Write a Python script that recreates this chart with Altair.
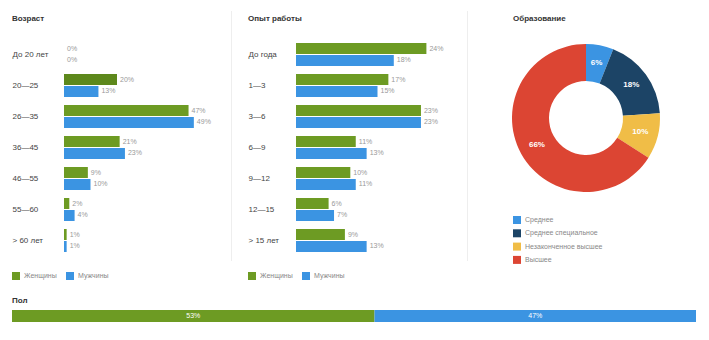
import altair as alt
import pandas as pd

# ---------------- data ----------------
sex_cats = ["Женщины", "Мужчины"]

age_cats = ["До 20 лет", "20—25", "26—35", "36—45", "46—55", "55—60", "> 60 лет"]
age_women = [0, 20, 47, 21, 9, 2, 1]
age_men = [0, 13, 49, 23, 10, 4, 1]

exp_cats = ["До года", "1—3", "3—6", "6—9", "9—12", "12—15", "> 15 лет"]
exp_women = [24, 17, 23, 11, 10, 6, 9]
exp_men = [18, 15, 23, 13, 11, 7, 13]

edu_cats = ["Среднее", "Среднее специальное", "Незаконченное высшее", "Высшее"]
edu_vals = [6, 18, 10, 66]

pol_vals = [53, 47]

# ---------------- style ----------------
FONT = "Liberation Sans"
GREEN = "#6D9B23"
GREEN_DARK = "#5D881C"
BLUE = "#3B94E2"
EDU_COLORS = ["#3B94E2", "#1C4466", "#F0BD47", "#DC4533"]


def bar_panel(cats, women, men, title, dmax, x0, highlight=None):
    rows = []
    for i, c in enumerate(cats):
        rows.append({"cat": c, "sex": sex_cats[0], "v": women[i], "hl": c == highlight})
        rows.append({"cat": c, "sex": sex_cats[1], "v": men[i], "hl": False})
    df = pd.DataFrame(rows)
    df["lbl"] = df["v"].astype(str) + "%"

    y = alt.Y("cat:N", sort=cats,
              scale=alt.Scale(paddingInner=0.258, paddingOuter=0.129),
              axis=alt.Axis(title=None, domain=False, ticks=False, labelAlign="left",
                            labelPadding=0, labelFontSize=8, labelColor="#444",
                            labelFont=FONT))
    yo = alt.YOffset("sex:N", sort=sex_cats,
                     scale=alt.Scale(paddingInner=0.083, paddingOuter=0))
    x = alt.X("v:Q", scale=alt.Scale(domain=[0, dmax], range=[x0, 211]), axis=None)
    base = alt.Chart(df).encode(y=y, yOffset=yo, x=x)

    color = alt.Color("sex:N", scale=alt.Scale(domain=sex_cats, range=[GREEN, BLUE]),
                      legend=alt.Legend(title=None, orient="none", legendX=0, legendY=233,
                                        direction="horizontal", symbolType="square",
                                        symbolSize=64, symbolStrokeWidth=0,
                                        labelFontSize=7, labelColor="#888", labelFont=FONT,
                                        columnPadding=9, labelOffset=4))
    bars = base.mark_bar().encode(
        color=alt.condition(alt.datum.hl, alt.value(GREEN_DARK), color)
    )
    labels = base.mark_text(align="left", baseline="middle", dx=3, fontSize=7,
                            color="#999", font=FONT).encode(text="lbl:N")
    sep = alt.Chart(pd.DataFrame({"a": [0]})).mark_rule(color="#EEEEEE").encode(
        x=alt.value(219.5), y=alt.value(-28), y2=alt.value(222))
    return alt.layer(bars, labels, sep).properties(
        width=211, height=217,
        title=alt.TitleParams(title, anchor="start", fontSize=8, fontWeight="bold",
                              font=FONT, color="#333", offset=0, dy=12))


p1 = bar_panel(age_cats, age_women, age_men, "Возраст", 60, 52, highlight="20—25")
p2 = bar_panel(exp_cats, exp_women, exp_men, "Опыт работы", 30, 48)

# donut
edu_df = pd.DataFrame({"cat": edu_cats, "v": edu_vals, "o": list(range(len(edu_cats)))})
edu_df["lbl"] = edu_df["v"].astype(str) + "%"
ebase = alt.Chart(edu_df).encode(theta=alt.Theta("v:Q", stack=True),
                                  order=alt.Order("o:Q"),
                                  x=alt.value(102), y=alt.value(79))
arc = ebase.mark_arc(outerRadius=74, innerRadius=37).encode(
    color=alt.Color("cat:N", sort=edu_cats,
                    scale=alt.Scale(domain=edu_cats, range=EDU_COLORS),
                    legend=alt.Legend(title=None, orient="none", legendX=29, legendY=177,
                                      direction="vertical", symbolType="square",
                                      symbolSize=64, symbolStrokeWidth=0,
                                      labelFontSize=7, labelColor="#888", labelFont=FONT,
                                      rowPadding=5.3, labelOffset=4)))
etext = ebase.mark_text(radius=56, fontSize=8, fontWeight="bold", color="white",
                        font=FONT).encode(text="lbl:N", detail="cat:N")
p3 = alt.layer(arc, etext).properties(
    width=204, height=217,
    title=alt.TitleParams("Образование", anchor="start", fontSize=8, fontWeight="bold",
                          font=FONT, color="#333", offset=16, dx=29))

# gender bar
pol_df = pd.DataFrame({"sex": sex_cats, "v": pol_vals, "o": [0, 1], "g": ["a", "a"]})
pol_df["lbl"] = pol_df["v"].astype(str) + "%"
pbase = alt.Chart(pol_df).encode(
    y=alt.Y("g:N", axis=None, scale=alt.Scale(paddingInner=0, paddingOuter=0)))
pbar = pbase.mark_bar().encode(
    x=alt.X("v:Q", stack="zero", scale=alt.Scale(domain=[0, 100]), axis=None),
    color=alt.Color("sex:N", scale=alt.Scale(domain=sex_cats, range=[GREEN, BLUE]), legend=None),
    order=alt.Order("o:Q"))
ptext = pbase.transform_window(cum="sum(v)", sort=[alt.SortField("o")]).transform_calculate(
    mid="datum.cum - datum.v / 2").mark_text(fontSize=7, color="white", font=FONT).encode(
    x=alt.X("mid:Q", scale=alt.Scale(domain=[0, 100]), axis=None), text="lbl:N")
p4 = alt.layer(pbar, ptext).properties(
    width=684, height=12,
    title=alt.TitleParams("Пол", anchor="start", fontSize=8, fontWeight="bold",
                          font=FONT, color="#333", offset=5))

top = alt.hconcat(p1, p2, p3, spacing=25, bounds="flush").resolve_scale(color="independent")
chart = alt.vconcat(top, p4, spacing=17, bounds="full").resolve_scale(
    color="independent"
).properties(
    padding={"left": 12, "top": 10, "right": 0, "bottom": 0},
    background="white"
).configure_view(stroke=None)

chart.save("out.html", embed_options={"renderer": "svg", "actions": False})
